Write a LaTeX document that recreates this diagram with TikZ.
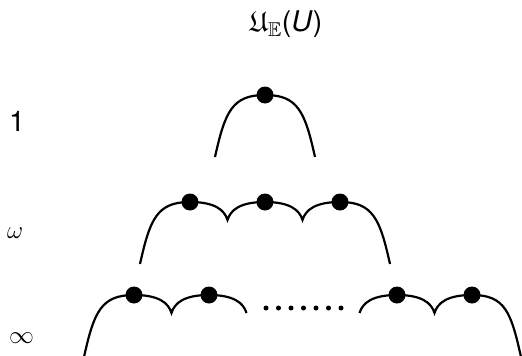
\documentclass[tikz,border=0pt]{standalone}
\usepackage{amssymb}
\usepackage{fontspec}
\setmainfont{TeX Gyre Heros}
\usetikzlibrary{backgrounds}
\tikzset{
  big/.style={font=\fontsize{28.5}{33}\selectfont, inner sep=0pt},
  dot/.style={circle, fill=black, minimum size=17pt, inner sep=0pt},
  sdot/.style={circle, fill=black, minimum size=5pt, inner sep=0pt},
  wire/.style={line width=2.2pt},
  lbl/.style={big, anchor=base west},
}
\begin{document}
\begin{tikzpicture}[x=1pt,y=-1pt]
\useasboundingbox (0,0) rectangle (522,356);
% title and labels
\node[big, anchor=base] (title) at (286,31) {$\mathfrak{U}_{\mathbb{E}}$(\textit{U})};
\node[lbl] (l1) at (9,131) {1};
\node[lbl] (lw) at (7,238) {$\omega$};
\node[lbl] (li) at (9,343) {$\infty$};
% row 1
\node[dot] (a1) at (265,95) {};
\coordinate (aL) at (215,157);
\coordinate (aR) at (315,157);
% row 2
\node[dot] (b1) at (190,202) {};
\node[dot] (b2) at (265,202) {};
\node[dot] (b3) at (340,202) {};
\coordinate (bL) at (140,264);
\coordinate (bR) at (390,264);
\coordinate (bc1) at (227.5,220);
\coordinate (bc2) at (302.5,220);
% row 3
\node[dot] (c1) at (134,295) {};
\node[dot] (c2) at (209,295) {};
\node[dot] (c3) at (397,295) {};
\node[dot] (c4) at (472,295) {};
\coordinate (cL) at (84,357);
\coordinate (cR) at (521,357);
\coordinate (cc1) at (171.5,313);
\coordinate (ce1) at (246.5,313);
\coordinate (ce2) at (359.5,313);
\coordinate (cc2) at (434.5,313);
\foreach \i in {0,...,6}{
  \node[sdot] (s\i) at (266+12.5*\i,308) {};
}
\begin{scope}[on background layer]
\draw[wire] (aL) .. controls +(10,-45) and +(-33,0) .. (a1.center)
  .. controls +(33,0) and +(-10,-45) .. (aR);
\draw[wire] (bL) .. controls +(10,-45) and +(-33,0) .. (b1.center)
  .. controls +(25,0) and +(-3,-10) .. (bc1)
  .. controls +(3,-10) and +(-25,0) .. (b2.center)
  .. controls +(25,0) and +(-3,-10) .. (bc2)
  .. controls +(3,-10) and +(-25,0) .. (b3.center)
  .. controls +(33,0) and +(-10,-45) .. (bR);
\draw[wire] (cL) .. controls +(10,-45) and +(-33,0) .. (c1.center)
  .. controls +(25,0) and +(-3,-10) .. (cc1)
  .. controls +(3,-10) and +(-25,0) .. (c2.center)
  .. controls +(25,0) and +(-3,-10) .. (ce1);
\draw[wire] (ce2) .. controls +(3,-10) and +(-25,0) .. (c3.center)
  .. controls +(25,0) and +(-3,-10) .. (cc2)
  .. controls +(3,-10) and +(-25,0) .. (c4.center)
  .. controls +(33,0) and +(-10,-45) .. (cR);
\end{scope}
\end{tikzpicture}
\end{document}
